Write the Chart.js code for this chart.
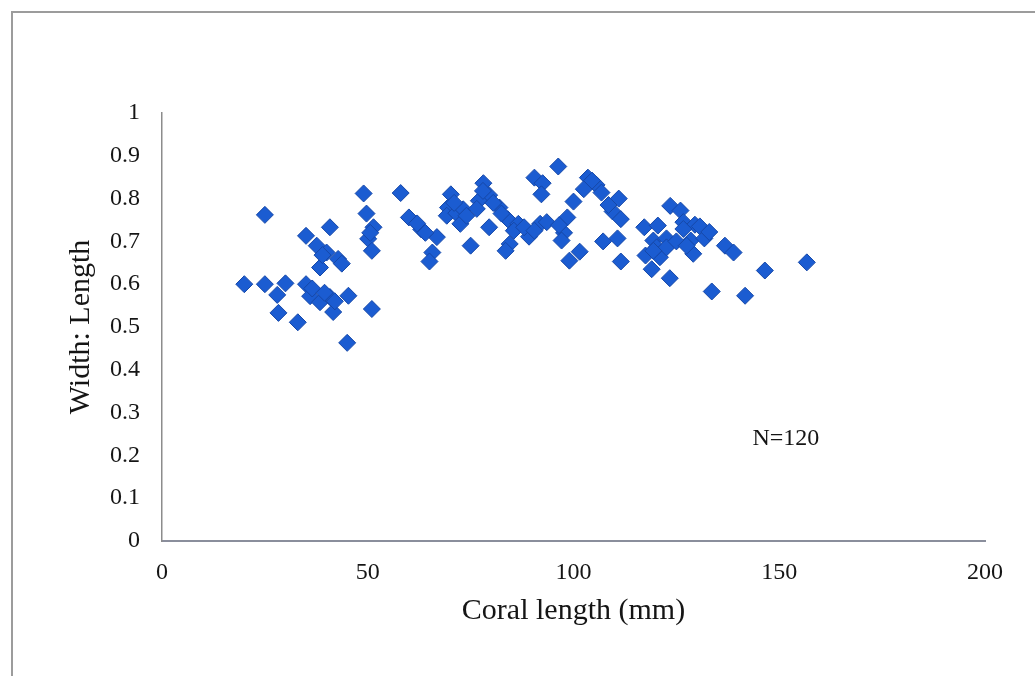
<!DOCTYPE html>
<html>
<head>
<meta charset="utf-8">
<title>Coral width:length ratio</title>
<script src="https://cdn.jsdelivr.net/npm/chart.js@4.4.1/dist/chart.umd.min.js"></script>
<style>
  html, body { margin: 0; padding: 0; background: #fff; }
  #wrap { position: relative; width: 1035px; height: 676px; overflow: hidden; }
  #frame {
    position: absolute; left: 11px; top: 11px; width: 1030px; height: 680px;
    border-left: 2px solid #9c9c9c; border-top: 2px solid #9c9c9c; border-right: 1px solid #e2e2e2;
  }
  #chart { position: absolute; left: 0; top: 0; }
</style>
</head>
<body>
<div id="wrap">
  <div id="frame"></div>
  <canvas id="chart" width="1035" height="676"></canvas>
</div>
<script>
// Coral length (mm) and width:length ratio (N=120)
const coralLength = [
    20, 25, 25, 30, 28, 28.3, 33, 35, 36, 38.4,
    40.8, 41.6, 45.3, 51, 45, 35, 37.6, 40, 42.8, 38.4,
    43.7, 40.8, 49, 49.7, 51.4, 50.1, 51, 36.5, 39.5, 42,
    39, 50.6,
    58, 60, 63, 66.8, 65.7, 65, 70.2, 69.5, 69.2, 71.5,
    73.2, 72.5, 75, 78.1, 79.5, 77, 76.5, 79.5, 82, 84,
    80.5, 84.5, 83.5, 86.6, 89.2, 91.9, 93.5, 90.5, 92.5, 92.2,
    96.3, 100, 98.5, 97.7, 97.1, 99, 101.5, 62, 64, 71,
    74, 78, 82.5, 85.5, 88, 90.5, 96.5,
    103.5, 105.6, 106.8, 111, 109.5, 111.5, 107.2, 110.7, 111.5, 117.2,
    120.5, 123.5, 126, 126.7, 119.4, 122.6, 117.5, 121, 119, 123.4,
    128.5, 129.5, 130.7, 131.8, 136.8, 138.9, 129.1, 120.2, 122.6, 133.6,
    141.7, 146.5, 156.7, 126.7, 119.4, 102.5, 104.5, 108.5, 125, 127.5,
    133
];
const widthLength = [
    0.60, 0.762, 0.60, 0.602, 0.575, 0.533, 0.511, 0.60, 0.572, 0.558,
    0.57, 0.535, 0.573, 0.542, 0.463, 0.713, 0.69, 0.674, 0.659, 0.639,
    0.648, 0.733, 0.812, 0.765, 0.733, 0.706, 0.678, 0.59, 0.58, 0.56,
    0.668, 0.72,
    0.813, 0.756, 0.728, 0.71, 0.674, 0.653, 0.81, 0.779, 0.76, 0.766,
    0.775, 0.741, 0.69, 0.836, 0.808, 0.795, 0.776, 0.733, 0.779, 0.752,
    0.79, 0.694, 0.678, 0.741, 0.711, 0.741, 0.745, 0.849, 0.836, 0.81,
    0.875, 0.793, 0.756, 0.72, 0.702, 0.655, 0.676, 0.742, 0.72, 0.79,
    0.76, 0.818, 0.765, 0.725, 0.733, 0.725, 0.738,
    0.849, 0.832, 0.814, 0.80, 0.77, 0.752, 0.70, 0.707, 0.653, 0.733,
    0.737, 0.783, 0.772, 0.745, 0.702, 0.707, 0.667, 0.663, 0.635, 0.614,
    0.702, 0.739, 0.735, 0.707, 0.69, 0.674, 0.671, 0.686, 0.686, 0.583,
    0.573, 0.632, 0.651, 0.729, 0.678, 0.822, 0.842, 0.785, 0.70, 0.69,
    0.722
];

// Tick labels as printed on the axes
const xTickLabels = ['0', '50', '100', '150', '200'];
const yTickLabels = ['0', '0.1', '0.2', '0.3', '0.4', '0.5', '0.6', '0.7', '0.8', '0.9', '1'];

// Sample size note, placed in data units
const sampleNote = 'N=120';
const sampleNoteAt = { x: 151.6, y: 0.24 };

const serif = '"Liberation Serif", "Times New Roman", serif';
const textColor = '#151515';

// Bygg punkterna från de två listorna
const points = coralLength.map((len, i) => ({ x: len, y: widthLength[i] }));

// Text "N=120" i diagrammet
const notePlugin = {
    id: 'sampleNote',
    afterDraw(chart) {
        const ctx = chart.ctx;
        const px = chart.scales.x.getPixelForValue(sampleNoteAt.x);
        const py = chart.scales.y.getPixelForValue(sampleNoteAt.y);
        ctx.save();
        ctx.font = '24px ' + serif;
        ctx.fillStyle = textColor;
        ctx.textAlign = 'center';
        ctx.textBaseline = 'middle';
        ctx.fillText(sampleNote, px, py);
        ctx.restore();
    }
};

new Chart(document.getElementById('chart'), {
    type: 'scatter',
    data: {
        datasets: [{
            label: 'Width: Length',
            data: points,
            pointStyle: 'rectRot',
            pointRadius: 8.5,
            pointHoverRadius: 8.5,
            backgroundColor: '#1b5cd1',
            borderColor: '#1648a8',
            borderWidth: 1
        }]
    },
    options: {
        responsive: false,
        animation: false,
        devicePixelRatio: 1,
        layout: {
            padding: { left: 0, right: 50, top: 113, bottom: 25 }
        },
        plugins: {
            legend: { display: false },
            tooltip: { enabled: false }
        },
        scales: {
            x: {
                type: 'linear',
                min: 0,
                max: 200,
                afterFit: scale => { scale.height = 110; },
                grid: { display: false, drawTicks: false },
                border: { display: true, color: '#8a8e9c', width: 2 },
                ticks: {
                    stepSize: 50,
                    padding: 17,
                    color: textColor,
                    font: { family: serif, size: 24 },
                    callback: (value, index) => xTickLabels[index]
                },
                title: {
                    display: true,
                    text: 'Coral length (mm)',
                    color: textColor,
                    font: { family: serif, size: 30 },
                    padding: { top: 0, bottom: 22 }
                }
            },
            y: {
                type: 'linear',
                min: 0,
                max: 1,
                afterFit: scale => { scale.width = 162; },
                grid: { display: false, drawTicks: false },
                border: { display: true, color: '#8c8c8c', width: 1.5 },
                ticks: {
                    stepSize: 0.1,
                    padding: 22,
                    color: textColor,
                    font: { family: serif, size: 24 },
                    callback: (value, index) => yTickLabels[index]
                },
                title: {
                    display: true,
                    text: 'Width: Length',
                    color: textColor,
                    font: { family: serif, size: 30 },
                    padding: { top: 63, bottom: 0 }
                }
            }
        }
    },
    plugins: [notePlugin]
});
</script>
</body>
</html>
